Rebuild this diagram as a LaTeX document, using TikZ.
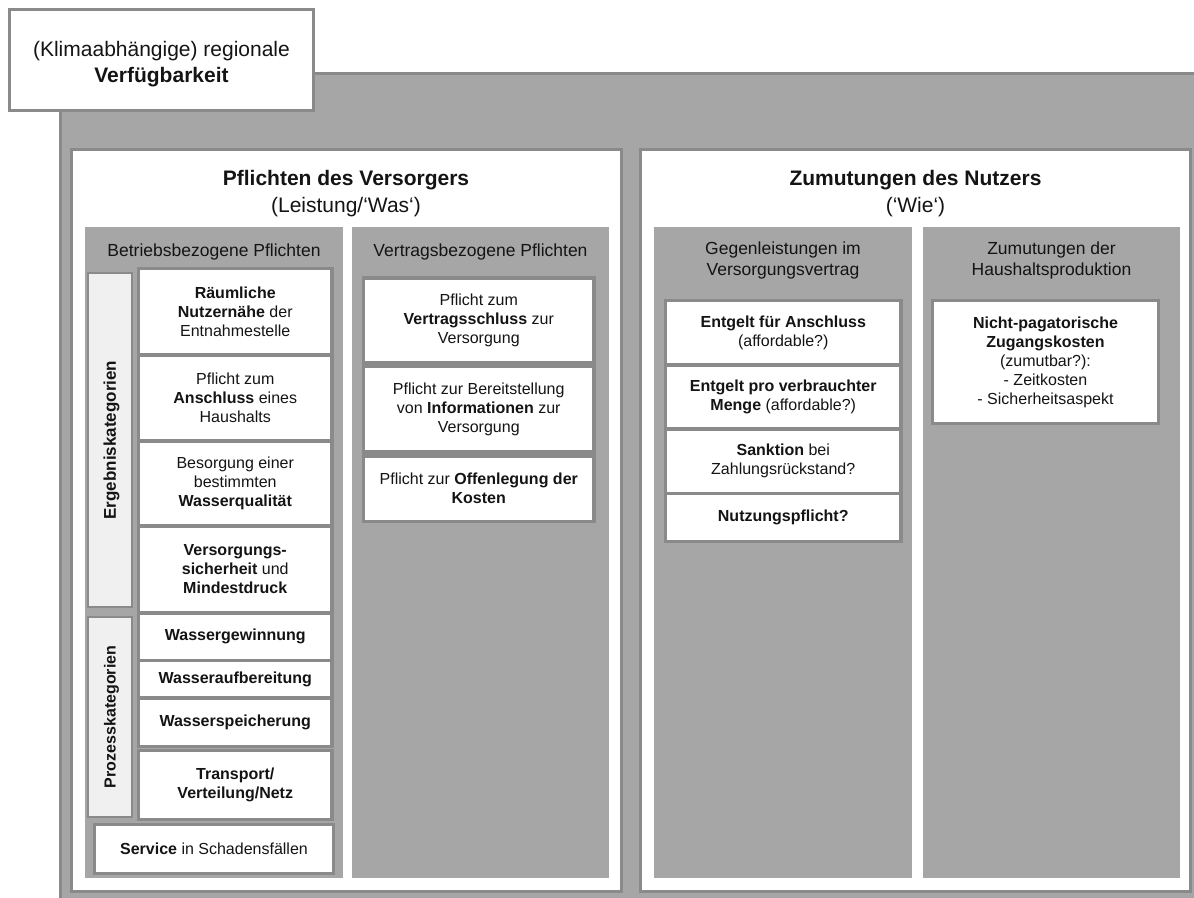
\documentclass[tikz,border=0pt]{standalone}
\usepackage{fontspec}
\setmainfont{Liberation Sans}
\definecolor{bggray}{HTML}{A6A6A6}
\definecolor{edgegray}{HTML}{8A8A8A}
\definecolor{bargray}{HTML}{F0F0F0}
\definecolor{ink}{HTML}{141414}
\tikzset{
  every node/.style={text=ink, inner sep=0pt, outer sep=0pt, align=center},
  outerbg/.style={fill=bggray, draw=edgegray, line width=3pt},
  panel/.style={fill=white, draw=edgegray, line width=3pt},
  titlebox/.style={fill=white, draw=edgegray, line width=3pt},
  colfill/.style={fill=bggray, draw=none},
  itembox/.style={fill=white, draw=edgegray, line width=3.5pt, font=\fontsize{16}{19}\selectfont},
  catbar/.style={fill=bargray, draw=edgegray, line width=2pt},
  cattext/.style={rotate=90, font=\bfseries\fontsize{16}{19}\selectfont},
  headtext/.style={font=\fontsize{21}{27}\selectfont},
  coltext/.style={font=\fontsize{17.5}{21}\selectfont}
}
\begin{document}
\begin{tikzpicture}[x=1pt, y=-1pt]
\useasboundingbox (0,0) rectangle (1194,897);
\clip (0,0) rectangle (1194,897);
\fill[white] (0,0) rectangle (1194,897);

% outer gray area
\node[outerbg, minimum width=1140, minimum height=828] (outer) at (630,487.5) {};

% title box
\node[titlebox, minimum width=304, minimum height=101] (title) at (161.5,60) {};
\node[font=\fontsize{21}{26}\selectfont] (titletext) at (161.5,64)
  {(Klimaabhängige) regionale\\\textbf{Verfügbarkeit}};

% panels
\node[panel, minimum width=550.5, minimum height=742] (leftpanel) at (346.25,520.5) {};
\node[panel, minimum width=550, minimum height=742] (rightpanel) at (915.5,520.5) {};

\node[headtext] (lhead) at (346,193.5) {\textbf{Pflichten des Versorgers}\\(Leistung/‘Was‘)};
\node[headtext] (rhead) at (915.5,193.5) {\textbf{Zumutungen des Nutzers}\\(‘Wie‘)};

% columns
\node[colfill, minimum width=258, minimum height=651] (colA) at (214,552.5) {};
\node[colfill, minimum width=257, minimum height=651] (colB) at (480.5,552.5) {};
\node[colfill, minimum width=258, minimum height=651] (colC) at (783,552.5) {};
\node[colfill, minimum width=257, minimum height=651] (colD) at (1051.5,552.5) {};

\node[coltext] (hA) at (214,252) {Betriebsbezogene Pflichten};
\node[coltext] (hB) at (480.5,252) {Vertragsbezogene Pflichten};
\node[coltext] (hC) at (783,260) {Gegenleistungen im\\Versorgungsvertrag};
\node[coltext] (hD) at (1051.5,260) {Zumutungen der\\Haushaltsproduktion};

% category bars
\node[catbar, minimum width=44, minimum height=334] (barE) at (110,440) {};
\node[cattext, font=\bfseries\fontsize{17}{19}\selectfont] (tE) at (111.5,440) {Ergebniskategorien};
\node[catbar, minimum width=44, minimum height=200] (barP) at (110,717) {};
\node[cattext] (tP) at (111.5,717) {Prozesskategorien};

% Ergebnis items
\node[itembox, minimum width=193.5, minimum height=86.5] (e1) at (235.25,311.75)
  {\textbf{Räumliche}\\\textbf{Nutzernähe} der\\Entnahmestelle};
\node[itembox, minimum width=193.5, minimum height=86] (e2) at (235.25,398)
  {Pflicht zum\\\textbf{Anschluss} eines\\Haushalts};
\node[itembox, minimum width=193.5, minimum height=85] (e3) at (235.25,483.5)
  {Besorgung einer\\bestimmten\\\textbf{Wasserqualität}};
\node[itembox, minimum width=193.5, minimum height=87] (e4) at (235.25,569.5)
  {\textbf{Versorgungs-}\\\textbf{sicherheit} und\\\textbf{Mindestdruck}};

% Prozess items
\node[itembox, minimum width=193.5, minimum height=47.5] (p1) at (235.25,636.75) {\textbf{Wassergewinnung}};
\node[itembox, minimum width=193.5, minimum height=37.5] (p2) at (235.25,679.25) {\textbf{Wasseraufbereitung}};
\node[itembox, minimum width=193.5, minimum height=48.5] (p3) at (235.25,722.25) {\textbf{Wasserspeicherung}};
\node[itembox, minimum width=193.5, minimum height=69] (p4) at (235.25,785) {\textbf{Transport/}\\\textbf{Verteilung/Netz}};

\node[itembox, minimum width=239, minimum height=49] (serv) at (214,849) {\textbf{Service} in Schadensfällen};

% Vertrags items
\node[itembox, minimum width=230.5, minimum height=84.5] (v1) at (478.75,320.25)
  {Pflicht zum\\\textbf{Vertragsschluss} zur\\Versorgung};
\node[itembox, minimum width=230.5, minimum height=86] (v2) at (478.75,409)
  {Pflicht zur Bereitstellung\\von \textbf{Informationen} zur\\Versorgung};
\node[itembox, minimum width=230.5, minimum height=65.5] (v3) at (478.75,488.75)
  {Pflicht zur \textbf{Offenlegung der}\\\textbf{Kosten}};

% Gegenleistungen items
\node[itembox, minimum width=235.5, minimum height=64.5] (g1) at (783.25,332.75)
  {\textbf{Entgelt für Anschluss}\\(affordable?)};
\node[itembox, minimum width=235.5, minimum height=64] (g2) at (783.25,397)
  {\textbf{Entgelt pro verbrauchter}\\\textbf{Menge} (affordable?)};
\node[itembox, minimum width=235.5, minimum height=64.5] (g3) at (783.25,461.25)
  {\textbf{Sanktion} bei\\Zahlungsrückstand?};
\node[itembox, minimum width=235.5, minimum height=48] (g4) at (783.25,517.5)
  {\textbf{Nutzungspflicht?}};

% Haushalt item
\node[itembox, minimum width=226, minimum height=123] (n1) at (1045.5,362)
  {\textbf{Nicht-pagatorische}\\\textbf{Zugangskosten}\\(zumutbar?):\\- Zeitkosten\\- Sicherheitsaspekt};
\end{tikzpicture}
\end{document}
